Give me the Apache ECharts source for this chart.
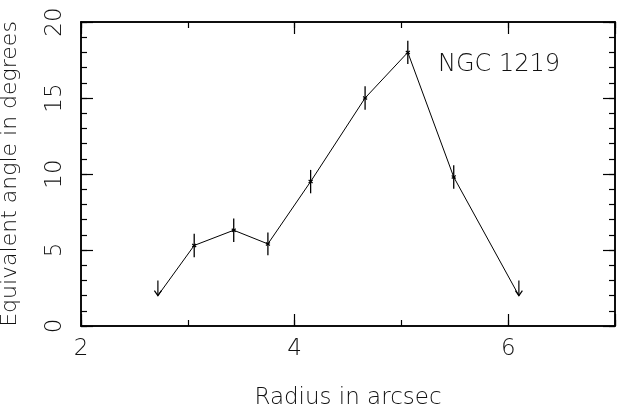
<!DOCTYPE html>
<html>
<head>
<meta charset="utf-8">
<script src="https://cdn.jsdelivr.net/npm/echarts@6/dist/echarts.min.js"></script>
<style>
  html, body { margin: 0; padding: 0; background: #fff; }
  #chart { width: 617px; height: 419px; }
</style>
</head>
<body>
<div id="chart"></div>
<script>
// Radial profile of the equivalent angle for NGC 1219
const radius = [2.72, 3.06, 3.43, 3.75, 4.15, 4.66, 5.06, 5.49, 6.10];
const angle = [2.0, 5.3, 6.3, 5.4, 9.5, 15.0, 18.0, 9.8, 2.0];
const angleErr = [0, 0.77, 0.77, 0.75, 0.77, 0.77, 0.76, 0.77, 0];
const upperLimit = [true, false, false, false, false, false, false, false, true];
const xTickLabels = ['2', '4', '6'];
const yTickLabels = ['0', '5', '10', '15', '20'];
const objectName = 'NGC 1219';

const FONT = '"DejaVu Sans"';
const WEIGHT = 200;
const INK = '#000';
const TXT = '#111';

const chart = echarts.init(document.getElementById('chart'), null, { renderer: 'canvas' });

function xAxisDef(position, interval, tickLen, labels, name) {
  return {
    type: 'value', position: position, min: 2, max: 7, interval: interval,
    name: name || '', nameLocation: 'middle', nameGap: 61,
    nameTextStyle: { fontFamily: FONT, fontWeight: WEIGHT, fontSize: 23, color: TXT },
    axisLine: { show: true, onZero: false, lineStyle: { color: INK, width: 1.5 } },
    axisTick: { show: true, inside: true, length: tickLen, lineStyle: { color: INK, width: 1.2 } },
    axisLabel: {
      show: !!labels, margin: 12, fontFamily: FONT, fontWeight: WEIGHT, fontSize: 23, color: TXT,
      formatter: v => (labels && labels.indexOf(String(v)) >= 0) ? String(v) : ''
    },
    splitLine: { show: false }
  };
}
function yAxisDef(position, interval, tickLen, labels, name) {
  return {
    type: 'value', position: position, min: 0, max: 20, interval: interval,
    name: name || '', nameLocation: 'middle', nameGap: 60, nameRotate: 90,
    nameTextStyle: { fontFamily: FONT, fontWeight: WEIGHT, fontSize: 22, color: TXT },
    axisLine: { show: true, onZero: false, lineStyle: { color: INK, width: 1.5 } },
    axisTick: { show: true, inside: true, length: tickLen, lineStyle: { color: INK, width: 1.2 } },
    axisLabel: {
      show: !!labels, rotate: 90, margin: 14, fontFamily: FONT, fontWeight: WEIGHT, fontSize: 23, color: TXT,
      formatter: v => (labels && labels.indexOf(String(v)) >= 0) ? String(v) : ''
    },
    splitLine: { show: false }
  };
}

const points = radius.map((r, i) => [r, angle[i], angleErr[i], upperLimit[i] ? 1 : 0]);

chart.setOption({
  animation: false,
  backgroundColor: '#fff',
  grid: { left: 81, right: 2, top: 22, bottom: 93, containLabel: false, outerBoundsMode: 'none' },
  xAxis: [
    xAxisDef('bottom', 2, 12, xTickLabels, 'Radius in arcsec'),
    xAxisDef('bottom', 1, 6, null),
    xAxisDef('top', 2, 12, null),
    xAxisDef('top', 1, 6, null)
  ],
  yAxis: [
    yAxisDef('left', 5, 12, yTickLabels, 'Equivalent angle in degrees'),
    yAxisDef('left', 1, 6, null),
    yAxisDef('right', 5, 12, null),
    yAxisDef('right', 1, 6, null)
  ],
  graphic: [{
    type: 'text', left: 438, top: 53,
    style: { text: objectName, fontFamily: FONT, fontWeight: WEIGHT, fontSize: 24, fill: TXT }
  }],
  series: [
    {
      type: 'line', xAxisIndex: 0, yAxisIndex: 0,
      data: radius.map((r, i) => [r, angle[i]]),
      symbol: 'none',
      lineStyle: { color: INK, width: 1 },
      z: 3
    },
    {
      // error bars, point markers and upper-limit arrows
      type: 'custom', xAxisIndex: 0, yAxisIndex: 0,
      data: points,
      encode: { x: 0, y: 1 },
      renderItem: function (params, api) {
        const x = api.value(0), y = api.value(1), e = api.value(2), lim = api.value(3);
        const c = api.coord([x, y]);
        const children = [];
        if (lim) {
          children.push({ type: 'line', shape: { x1: c[0], y1: c[1] - 15, x2: c[0], y2: c[1] },
            style: { stroke: INK, lineWidth: 1.2 } });
          children.push({ type: 'polyline', shape: { points: [[c[0] - 3.5, c[1] - 5], [c[0], c[1]], [c[0] + 3.5, c[1] - 5]] },
            style: { stroke: INK, lineWidth: 1.2, fill: null } });
        } else {
          const lo = api.coord([x, y - e]), hi = api.coord([x, y + e]);
          children.push({ type: 'line', shape: { x1: c[0], y1: hi[1], x2: c[0], y2: lo[1] },
            style: { stroke: INK, lineWidth: 1.3 } });
          children.push({ type: 'line', shape: { x1: c[0] - 2, y1: c[1] - 1.5, x2: c[0] + 2, y2: c[1] + 1.5 },
            style: { stroke: INK, lineWidth: 1.2 } });
          children.push({ type: 'line', shape: { x1: c[0] - 2, y1: c[1] + 1.5, x2: c[0] + 2, y2: c[1] - 1.5 },
            style: { stroke: INK, lineWidth: 1.2 } });
        }
        return { type: 'group', children: children };
      },
      z: 4
    }
  ]
});
</script>
</body>
</html>
